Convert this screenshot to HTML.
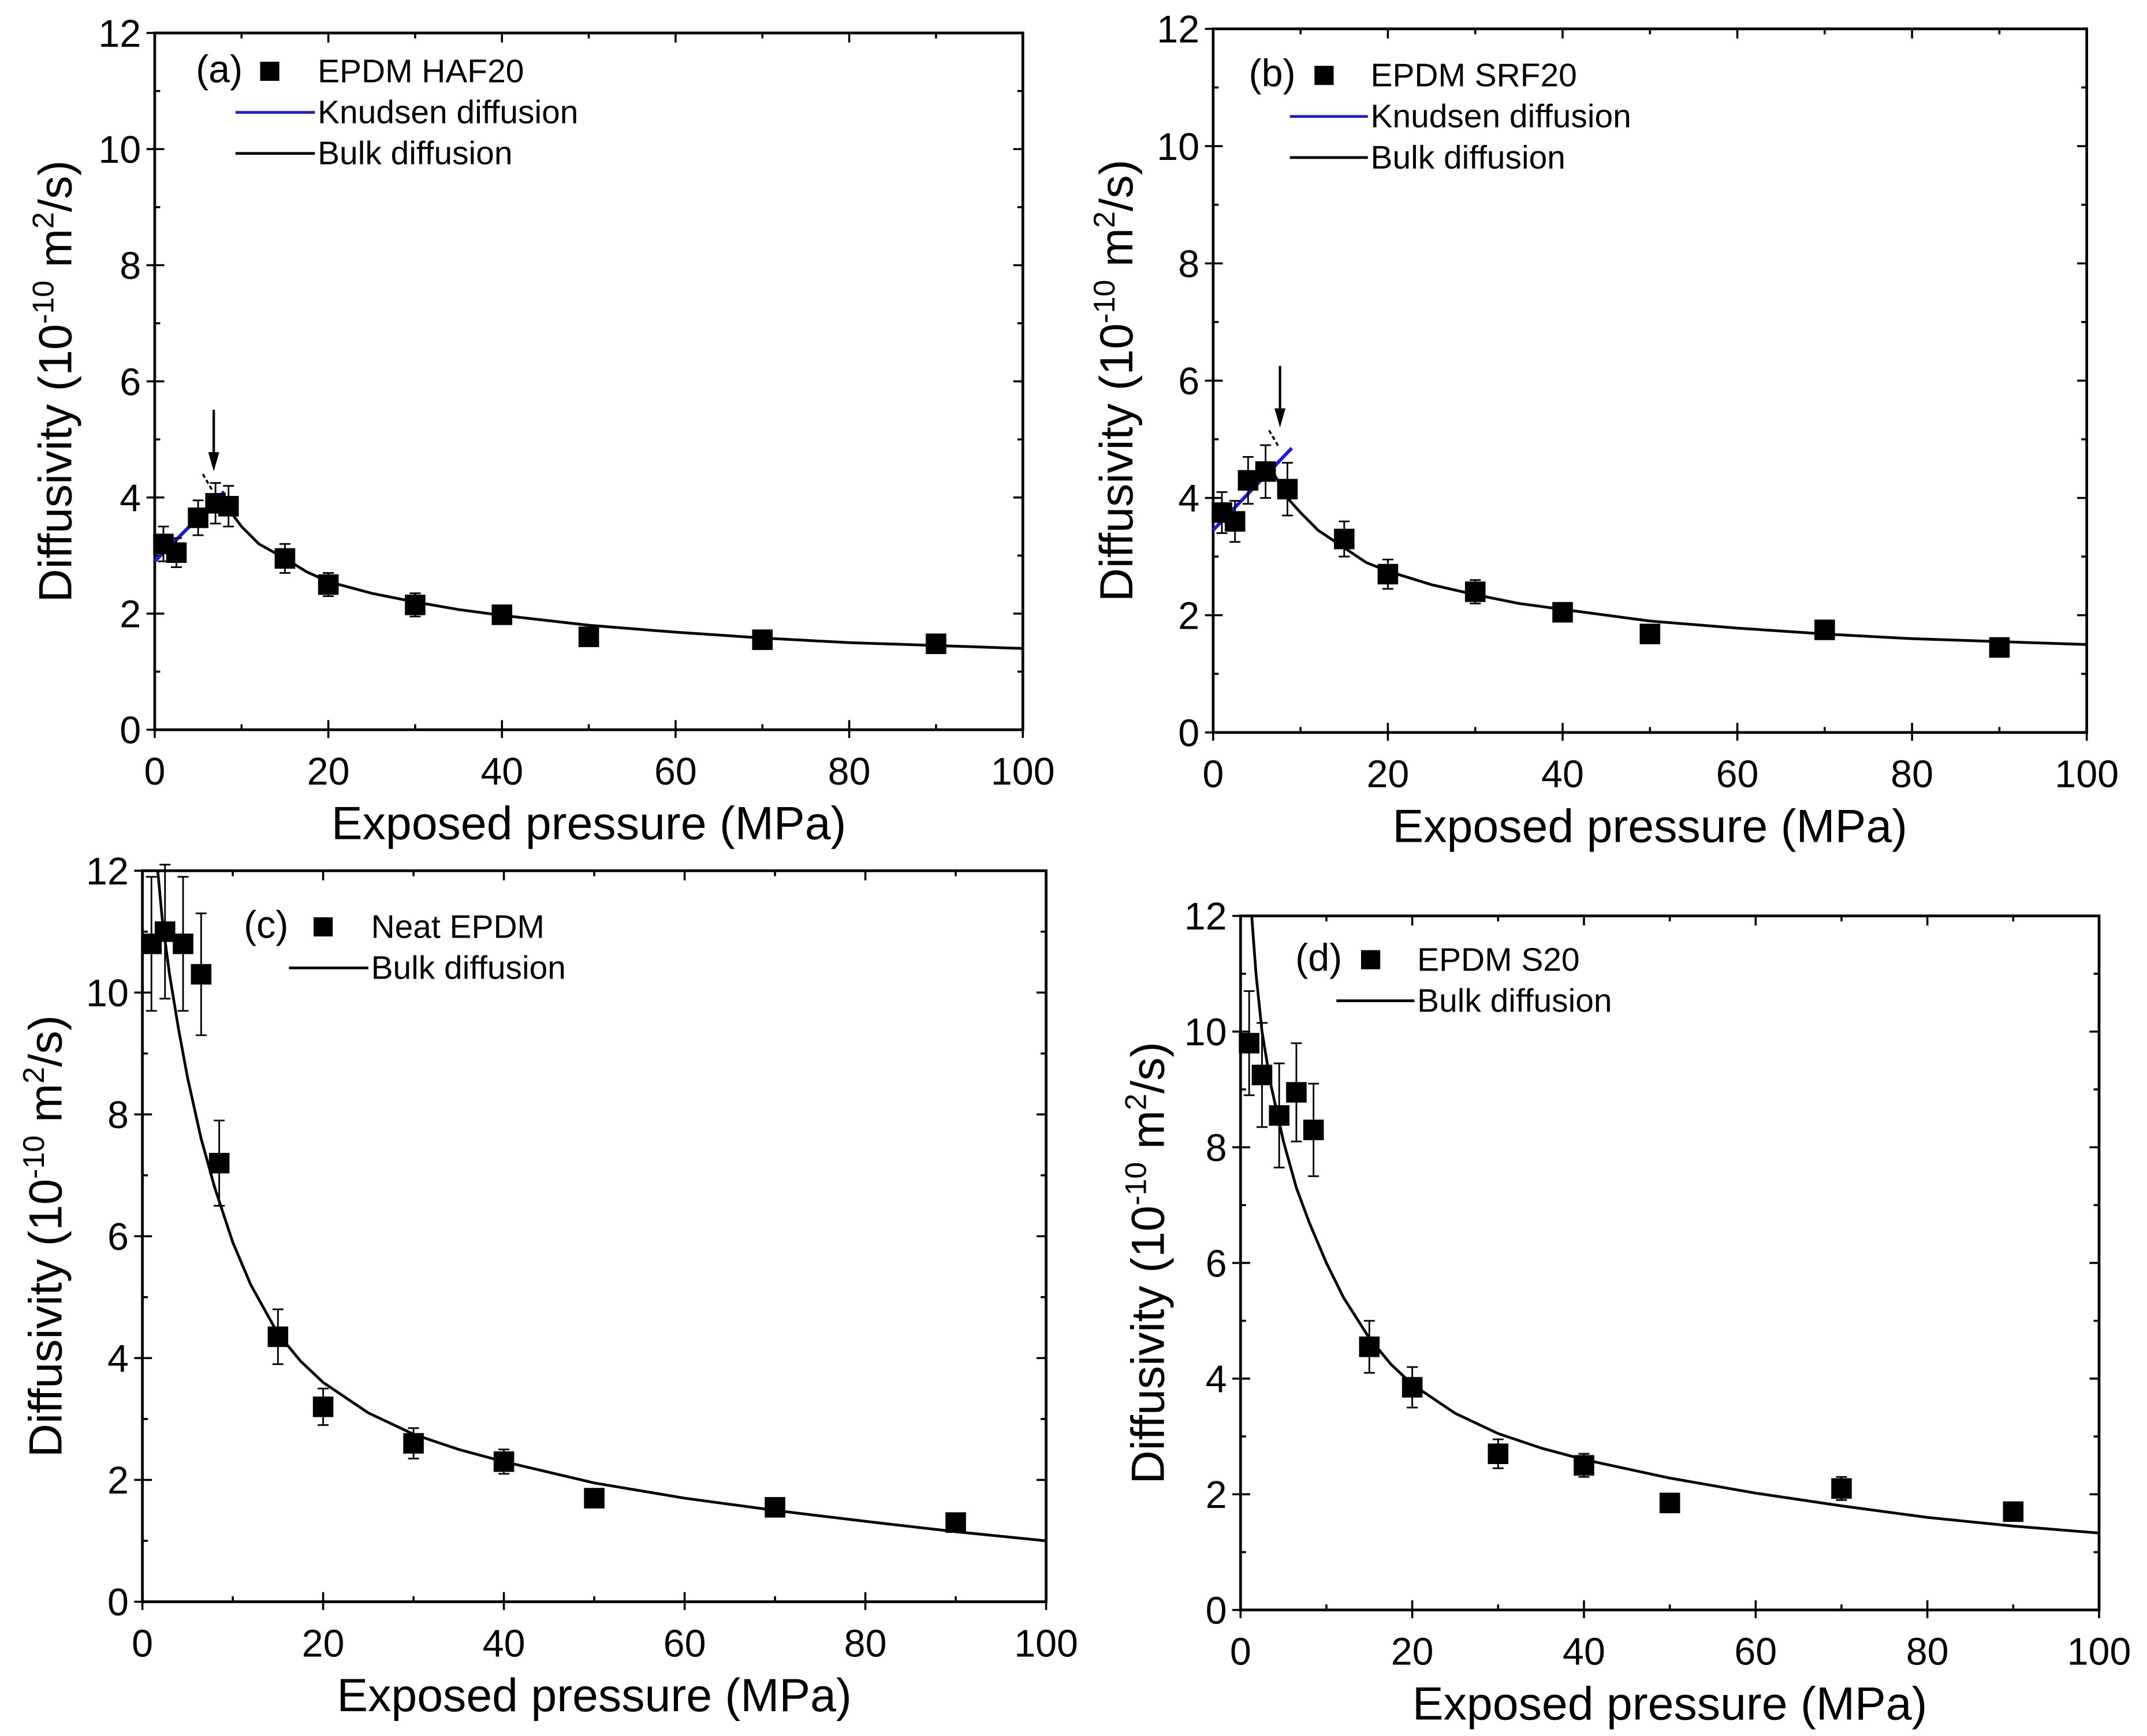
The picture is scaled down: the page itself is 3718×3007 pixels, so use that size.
<!DOCTYPE html>
<html><head><meta charset="utf-8"><style>
html,body{margin:0;padding:0;background:#fff}
svg{display:block}
text{font-family:"Liberation Sans",Arial,sans-serif;fill:#000}
</style></head><body>
<svg id="fig" width="3718" height="3007" viewBox="0 0 1568 1268" xmlns="http://www.w3.org/2000/svg"></svg>
<script>
// Panel (a)
const aX=[1,2.5,5,7,8.5,15,20,30,40,50,70,90];
const aY=[3.2,3.05,3.65,3.9,3.85,2.95,2.5,2.15,1.98,1.6,1.55,1.48];
const aErr=[0.3,0.25,0.3,0.35,0.35,0.25,0.2,0.2,0.1,0.05,0.05,0.05];
const aBulkX=[7.5,9,10,12,15,17.5,20,25,30,35,40,50,60,70,80,90,100];
const aBulkY=[4.05,3.7,3.5,3.2,2.95,2.72,2.55,2.35,2.2,2.07,1.97,1.8,1.68,1.58,1.5,1.45,1.4];
const aKnX=[0,8];
const aKnY=[2.9,4.1];
// Panel (b)
const bX=[1,2.5,4,6,8.5,15,20,30,40,50,70,90];
const bY=[3.75,3.6,4.3,4.45,4.15,3.3,2.7,2.4,2.05,1.68,1.75,1.45];
const bErr=[0.35,0.35,0.4,0.45,0.45,0.3,0.25,0.2,0.15,0.1,0.05,0.05];
const bBulkX=[7,8.5,10,12,15,17.5,20,25,30,35,40,50,60,70,80,90,100];
const bBulkY=[4.4,4.0,3.75,3.45,3.15,2.9,2.75,2.52,2.35,2.2,2.1,1.9,1.78,1.68,1.6,1.55,1.5];
const bKnX=[0,9];
const bKnY=[3.45,4.85];
// Panel (c)
const cX=[1,2.5,4.5,6.5,8.5,15,20,30,40,50,70,90];
const cY=[10.8,11.0,10.8,10.3,7.2,4.35,3.2,2.6,2.3,1.7,1.55,1.3];
const cErr=[1.1,1.1,1.1,1.0,0.7,0.45,0.3,0.25,0.2,0.1,0.05,0.05];
const cBulkX=[1.7,2.2,3,4,5,6.5,8,10,12,15,17.5,20,25,30,35,40,50,60,70,80,90,100];
const cBulkY=[12,11.2,10.3,9.4,8.6,7.6,6.8,5.9,5.2,4.4,3.95,3.6,3.1,2.75,2.5,2.3,1.95,1.7,1.5,1.32,1.15,1.0];
// Panel (d)
const dX=[1,2.5,4.5,6.5,8.5,15,20,30,40,50,70,90];
const dY=[9.8,9.25,8.55,8.95,8.3,4.55,3.85,2.7,2.5,1.85,2.1,1.7];
const dErr=[0.9,0.9,0.9,0.85,0.8,0.45,0.35,0.25,0.2,0.1,0.2,0.1];
const dBulkX=[1.3,1.8,2.5,3.5,5,6.5,8,10,12,15,17.5,20,25,30,35,40,50,60,70,80,90,100];
const dBulkY=[12,11,10,9.1,8.1,7.3,6.7,6.0,5.4,4.7,4.25,3.9,3.4,3.05,2.8,2.6,2.28,2.02,1.8,1.6,1.45,1.33];
const xTicks=[0,20,40,60,80,100];
const yTicks=[0,2,4,6,8,10,12];

const NS="http://www.w3.org/2000/svg";
const svg=document.getElementById('fig');
function mk(tag,attrs,parent,txt){const e=document.createElementNS(NS,tag);for(const k in attrs)e.setAttribute(k,attrs[k]);if(txt!==undefined)e.textContent=txt;(parent||svg).appendChild(e);return e;}

const panels=[
 {id:'a',L:113,R:747,T:24,B:533,X:aX,Y:aY,E:aErr,bx:aBulkX,by:aBulkY,kx:aKnX,ky:aKnY,label:'(a)',name:'EPDM HAF20',ytx:40,lg:{lx:143,ly:60,sx:197,tx:232,y1:52}},
 {id:'b',L:886,R:1524,T:21,B:535,X:bX,Y:bY,E:bErr,bx:bBulkX,by:bBulkY,kx:bKnX,ky:bKnY,label:'(b)',name:'EPDM SRF20',ytx:815,lg:{lx:912,ly:63,sx:967,tx:1001,y1:55}},
 {id:'c',L:104,R:764,T:636,B:1170,X:cX,Y:cY,E:cErr,bx:cBulkX,by:cBulkY,label:'(c)',name:'Neat EPDM',ytx:33,lg:{lx:178,ly:685,sx:236,tx:271,y1:677}},
 {id:'d',L:906,R:1533,T:669,B:1176,X:dX,Y:dY,E:dErr,bx:dBulkX,by:dBulkY,label:'(d)',name:'EPDM S20',ytx:838,lg:{lx:946,ly:709,sx:1001,tx:1035,y1:701}}
];

panels.forEach(p=>{
 const g=mk('g',{});
 
 
 const sx=v=>p.L+(v/100)*(p.R-p.L);
 const sy=v=>p.B-(v/12)*(p.B-p.T);
 const clip=mk('clipPath',{id:'clip'+p.id},g);
 mk('rect',{x:p.L,y:p.T,width:p.R-p.L,height:p.B-p.T},clip);
 const frame=mk('rect',{x:p.L,y:p.T,width:p.R-p.L,height:p.B-p.T,fill:'none',stroke:'#000','stroke-width':2},g);
 
 
 for(let v=0;v<=100;v+=10){const major=v%20===0;const len=major?7:4;
  mk('line',{x1:sx(v),x2:sx(v),y1:p.B,y2:p.B-len,stroke:'#000','stroke-width':1.5},g);
  mk('line',{x1:sx(v),x2:sx(v),y1:p.T,y2:p.T+len,stroke:'#000','stroke-width':1.5},g);
  mk('line',{x1:sx(v),x2:sx(v),y1:p.B,y2:p.B+(major?6:0),stroke:'#000','stroke-width':1.5},g);}
 for(let v=0;v<=12;v+=1){const major=v%2===0;const len=major?7:4;
  mk('line',{x1:p.L,x2:p.L+len,y1:sy(v),y2:sy(v),stroke:'#000','stroke-width':1.5},g);
  mk('line',{x1:p.R,x2:p.R-len,y1:sy(v),y2:sy(v),stroke:'#000','stroke-width':1.5},g);
  if(major)mk('line',{x1:p.L,x2:p.L-6,y1:sy(v),y2:sy(v),stroke:'#000','stroke-width':1.5},g);}
 xTicks.forEach(v=>{const t=mk('text',{x:sx(v),y:p.B+40,'text-anchor':'middle','font-size':28},g,String(v));
  });
 yTicks.forEach(v=>{const t=mk('text',{x:p.L-10,y:sy(v)+10,'text-anchor':'end','font-size':28},g,String(v));
  });
 const xt=mk('text',{x:(p.L+p.R)/2,y:p.B+80,'text-anchor':'middle','font-size':34},g,'Exposed pressure (MPa)');
 
 const cy=(p.T+p.B)/2;
 const yt=mk('text',{x:p.ytx,y:cy,'text-anchor':'middle','font-size':34,transform:`rotate(-90 ${p.ytx} ${cy})`,dy:12},g);
 
 mk('tspan',{},yt,'Diffusivity (10');
 mk('tspan',{dy:-13,'font-size':22},yt,'-10');
 mk('tspan',{dy:13},yt,' m');
 mk('tspan',{dy:-13,'font-size':22},yt,'2');
 mk('tspan',{dy:13},yt,'/s)');
 const pts=p.bx.map((x,i)=>sx(x)+','+sy(p.by[i])).join(' ');
 const bl=mk('polyline',{points:pts,fill:'none',stroke:'#000','stroke-width':2,'clip-path':`url(#clip${p.id})`,'stroke-linejoin':'round'},g);
 
 if(p.kx){const kl=mk('line',{x1:sx(p.kx[0]),y1:sy(p.ky[0]),x2:sx(p.kx[1]),y2:sy(p.ky[1]),stroke:'#1a1adc','stroke-width':2.5},g);
  
  const ax=sx(p.kx[1]*0.85), ay=sy(p.ky[1]+0.35);
  mk('line',{x1:ax,y1:ay-45,x2:ax,y2:ay-8,stroke:'#000','stroke-width':1.8},g);
  mk('polygon',{points:`${ax-4},${ay-14} ${ax+4},${ay-14} ${ax},${ay}`,fill:'#000'},g);
  mk('line',{x1:ax-8,y1:ay+2,x2:ax-1,y2:ay+14,stroke:'#000','stroke-width':1.5,'stroke-dasharray':'3,2'},g);}
 p.X.forEach((x,i)=>{const X=sx(x),Y=sy(p.Y[i]),e1=sy(p.Y[i]+p.E[i]),e2=sy(p.Y[i]-p.E[i]);
  const eb=mk('path',{d:`M${X},${e1}V${e2}M${X-4},${e1}H${X+4}M${X-4},${e2}H${X+4}`,stroke:'#000','stroke-width':1.2,fill:'none'},g);
  
  const r=mk('rect',{x:X-7.5,y:Y-7.5,width:15,height:15,fill:'#000'},g);
  });
 const lg=p.lg;
 const lgG=mk('g',{},g);
 mk('text',{x:lg.lx,y:lg.ly,'font-size':28},lgG,p.label);
 mk('rect',{x:lg.sx-7,y:lg.y1-7,width:14,height:14,fill:'#000'},lgG);
 mk('text',{x:lg.tx,y:lg.y1+8,'font-size':24},lgG,p.name);
 let yy=lg.y1+30;
 if(p.kx){mk('line',{x1:lg.sx-25,x2:lg.tx-2,y1:yy,y2:yy,stroke:'#1a1adc','stroke-width':2},lgG);
  mk('text',{x:lg.tx,y:yy+8,'font-size':24},lgG,'Knudsen diffusion');yy+=30;}
 mk('line',{x1:lg.sx-25,x2:lg.tx-2,y1:yy,y2:yy,stroke:'#000','stroke-width':2},lgG);
 mk('text',{x:lg.tx,y:yy+8,'font-size':24},lgG,'Bulk diffusion');
});
</script>
</body></html>
